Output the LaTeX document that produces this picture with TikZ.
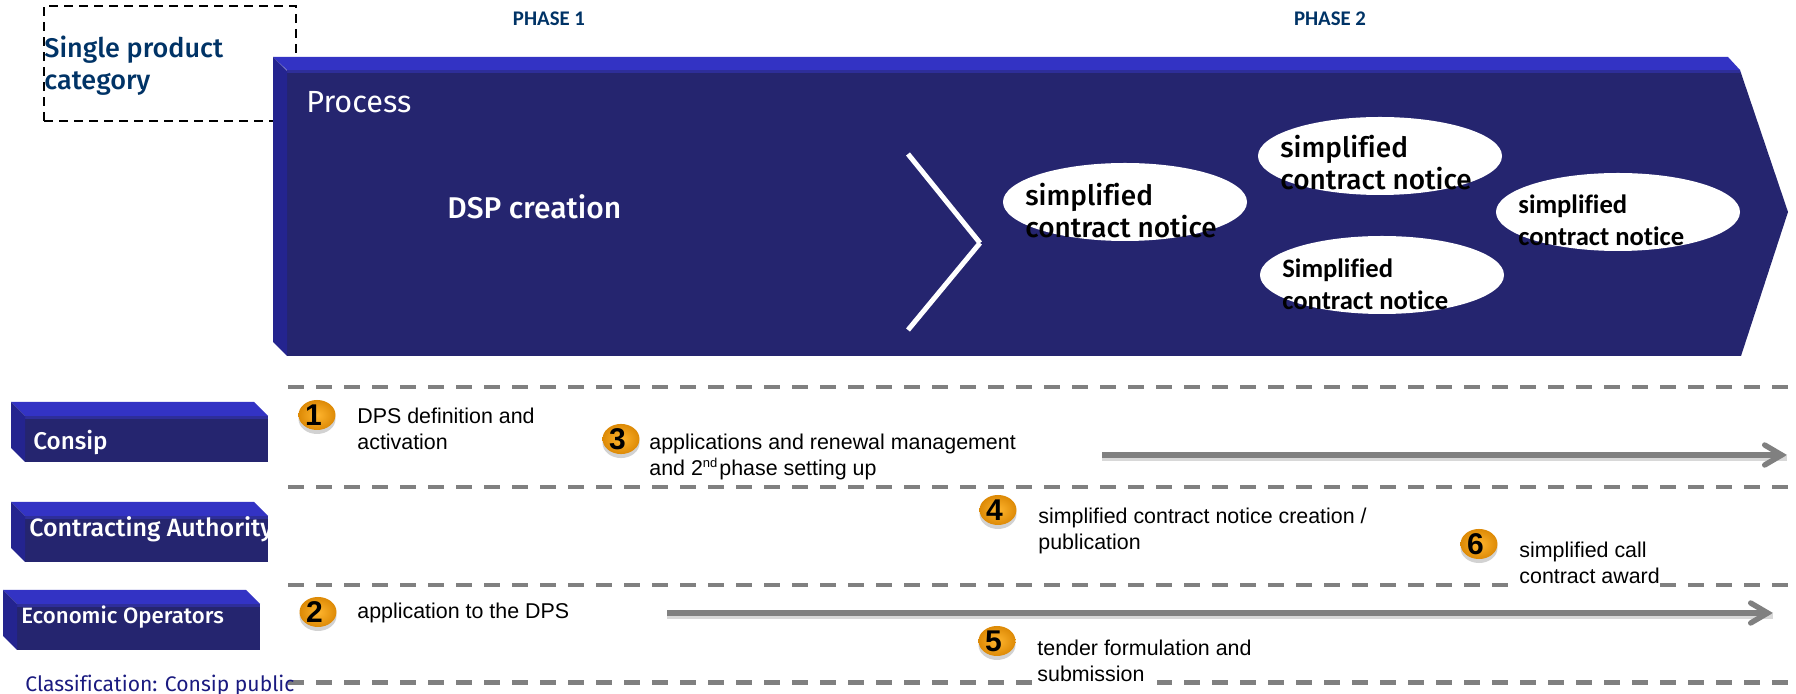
\documentclass[tikz,border=0pt]{standalone}
\usepackage{fontspec}
\setmainfont{Liberation Sans}
\newfontfamily\tfont[Ligatures=NoCommon]{Fira Sans}
\newfontfamily\tmed[Ligatures=NoCommon]{Fira Sans Medium}
\newfontfamily\cfont[Ligatures=NoCommon]{Carlito}
\usetikzlibrary{arrows.meta,shapes.geometric,shadows}
\definecolor{navy}{HTML}{25256F}
\definecolor{topc}{HTML}{3333C4}
\definecolor{leftc}{HTML}{24248F}
\definecolor{midc}{HTML}{2E2E99}
\definecolor{titleblue}{HTML}{003366}
\definecolor{graydash}{HTML}{808080}
\definecolor{classc}{HTML}{1A1A80}
\definecolor{badgein}{HTML}{FFB52E}
\definecolor{badgeout}{HTML}{DD8A06}
\tikzset{x=0.5pt,y=-0.5pt,
 dashline/.style={graydash,line width=2.2pt,dash pattern=on 8pt off 6pt},
 flow/.style={graydash,line width=2.7pt,-{Straight Barb[length=8.5pt,width=10pt,line cap=round,line join=miter]}},
 flowshade/.style={black!25,opacity=.6,line width=2.5pt,transform canvas={yshift=-1.6pt}},
 txt/.style={font=\fontsize{10.7pt}{13pt}\selectfont,anchor=north west,inner sep=0pt,align=left,text=black},
 maskedtxt/.style={txt,inner ysep=2pt,font=\fontsize{10.7pt}{12.6pt}\selectfont},
 badge/.style={ellipse,minimum width=18.5pt,minimum height=15pt,inner sep=0pt,draw=none,
   inner color=badgein,outer color=badgeout,font=\bfseries\fontsize{15pt}{15pt}\selectfont,
   drop shadow={shadow xshift=0pt,shadow yshift=-2pt,fill=black!35,opacity=.5}},
 oval/.style={ellipse,fill=white,inner sep=0pt,minimum width=122pt,minimum height=39pt},
 ovaltxt/.style={anchor=north west,inner sep=0pt,align=left,text=black,font=\tmed\fontsize{14pt}{16pt}\selectfont},
 ovaltxtb/.style={anchor=north west,inner sep=0pt,align=left,text=black,font=\cfont\bfseries\fontsize{13.3pt}{16pt}\selectfont},
 lab/.style={anchor=west,inner sep=0pt,text=white},
 phase/.style={anchor=center,inner sep=0pt,text=titleblue,font=\cfont\bfseries\fontsize{10.4pt}{11pt}\selectfont},
 ltag/.style={lab,font=\tmed\fontsize{12.5pt}{13pt}\selectfont},
 boxdash/.style={black,line width=1pt,dash pattern=on 4.5pt off 3pt},
}
\newcommand{\ribbon}[2]{%
 \fill[navy] (#1+14,#2+17) -- (#1+257,#2+17) -- (#1+257,#2+60) -- (#1+14,#2+60) -- cycle;
 \fill[midc] (#1+14,#2+14) -- (#1+257,#2+14) -- (#1+257,#2+17) -- (#1+14,#2+17) -- cycle;
 \fill[topc] (#1,#2) -- (#1+243,#2) -- (#1+257,#2+14) -- (#1+14,#2+14) -- cycle;
 \fill[leftc] (#1,#2) -- (#1+14,#2+14) -- (#1+14,#2+60) -- (#1,#2+46) -- cycle;
}
\newcommand{\numb}[1]{#1\kern3.5pt}
\begin{document}
\begin{tikzpicture}
\useasboundingbox (0,0) rectangle (1796,694);
\fill[white] (0,0) rectangle (1796,694);
% dashed box
\draw[boxdash] (44,121) -- (44,6) -- (296,6) -- (296,60);
\draw[boxdash] (44,121) -- (275,121);
\node[anchor=north west,inner sep=0pt,align=left,text=titleblue,font=\tmed\fontsize{13.5pt}{16pt}\selectfont] (single) at (44,36) {Single product\\category};
\node[phase] (ph1) at (549,19) {PHASE 1};
\node[phase] (ph2) at (1330,19) {PHASE 2};
% main arrow
\fill[navy] (287,73) -- (1741,73) -- (1788,212) -- (1741,356) -- (287,356) -- cycle;
\fill[midc] (287,70) -- (1740,70) -- (1741,73) -- (287,73) -- cycle;
\fill[topc] (273,57) -- (1728,57) -- (1740,70) -- (287,70) -- cycle;
\fill[leftc] (273,57) -- (287,71) -- (287,356) -- (273,342) -- cycle;
\node[lab,font=\tfont\fontsize{15.3pt}{18pt}\selectfont] (process) at (306,102) {Process};
\node[lab,font=\tmed\fontsize{15pt}{16pt}\selectfont] (dsp) at (447,207) {DSP creation};
\draw[white,line width=2.5pt] (908,154) -- (980,243);
\draw[white,line width=2.5pt] (980,243) -- (908,330);
% ovals
\node[oval] (o1) at (1125,202) {};
\node[oval] (o2) at (1380,156) {};
\node[oval] (o3) at (1618,212) {};
\node[oval] (o4) at (1382,275) {};
\node[ovaltxt] (t1) at (1025,183) {simplified\\contract notice};
\node[ovaltxt] (t2) at (1280,135) {simplified\\contract notice};
\node[ovaltxtb] (t3) at (1518,194) {simplified\\contract notice};
\node[ovaltxtb] (t4) at (1282,258) {Simplified\\contract notice};
% dashes
\coordinate (d1a) at (288,387); \coordinate (d1b) at (1796,387);
\coordinate (d2a) at (288,487); \coordinate (d2b) at (1796,487);
\coordinate (d3a) at (288,585); \coordinate (d3b) at (1796,585);
\coordinate (d4a) at (288,682.5); \coordinate (d4b) at (1796,682.5);
\draw[dashline] (d1a) -- (d1b);
\draw[dashline] (d2a) -- (d2b);
\draw[dashline] (d3a) -- (d3b);
\draw[dashline] (d4a) -- (d4b);
\fill[white] (1037,672) rectangle (1157,690);
% ribbons
\ribbon{11}{402}
\ribbon{11}{502}
\ribbon{3}{590}
\node[ltag,font=\tmed\fontsize{12.1pt}{13pt}\selectfont] (l1) at (33,442) {Consip};
\node[ltag] (l2) at (29,529) {Contracting Authority};
\node[ltag,font=\tmed\fontsize{11.1pt}{13pt}\selectfont] (l3) at (21,617) {Economic Operators};
\node[anchor=west,inner sep=0pt,text=classc,font=\tfont\fontsize{10.55pt}{12pt}\selectfont] (cl) at (25,686) {Classification: Consip public};
% flows
\coordinate (f1a) at (1102,455); \coordinate (f1b) at (1787,455);
\coordinate (f2a) at (667,613); \coordinate (f2b) at (1773,613);
\draw[flowshade] (f1a) -- (f1b);
\draw[flowshade] (f2a) -- (f2b);
\draw[flow] (f1a) -- (f1b);
\draw[flow] (f2a) -- (f2b);
% badges
\node[badge] (b1) at (317,415) {\numb{1}};
\node[badge] (b2) at (318,612) {\numb{2}};
\node[badge] (b3) at (621,439) {\numb{3}};
\node[badge] (b4) at (998,510) {\numb{4}};
\node[badge] (b5) at (997,641) {\numb{5}};
\node[badge] (b6) at (1479,544) {\numb{6}};
% texts
\node[txt] (x1) at (357,408) {DPS definition and\\activation};
\node[txt] (x2) at (357,603) {application to the DPS};
\node[txt] (x3) at (649,433.5) {applications and renewal management\\and 2\raisebox{.36em}{\fontsize{6.5pt}{7pt}\selectfont nd}\kern1pt phase setting up};
\node[txt] (x4) at (1038,508) {simplified contract notice creation /\\publication};
\node[maskedtxt] (x5) at (1037,636) {tender formulation and\\submission};
\node[maskedtxt,fill=white] (x6) at (1519,538) {simplified call\\contract award};
\end{tikzpicture}
\end{document}
